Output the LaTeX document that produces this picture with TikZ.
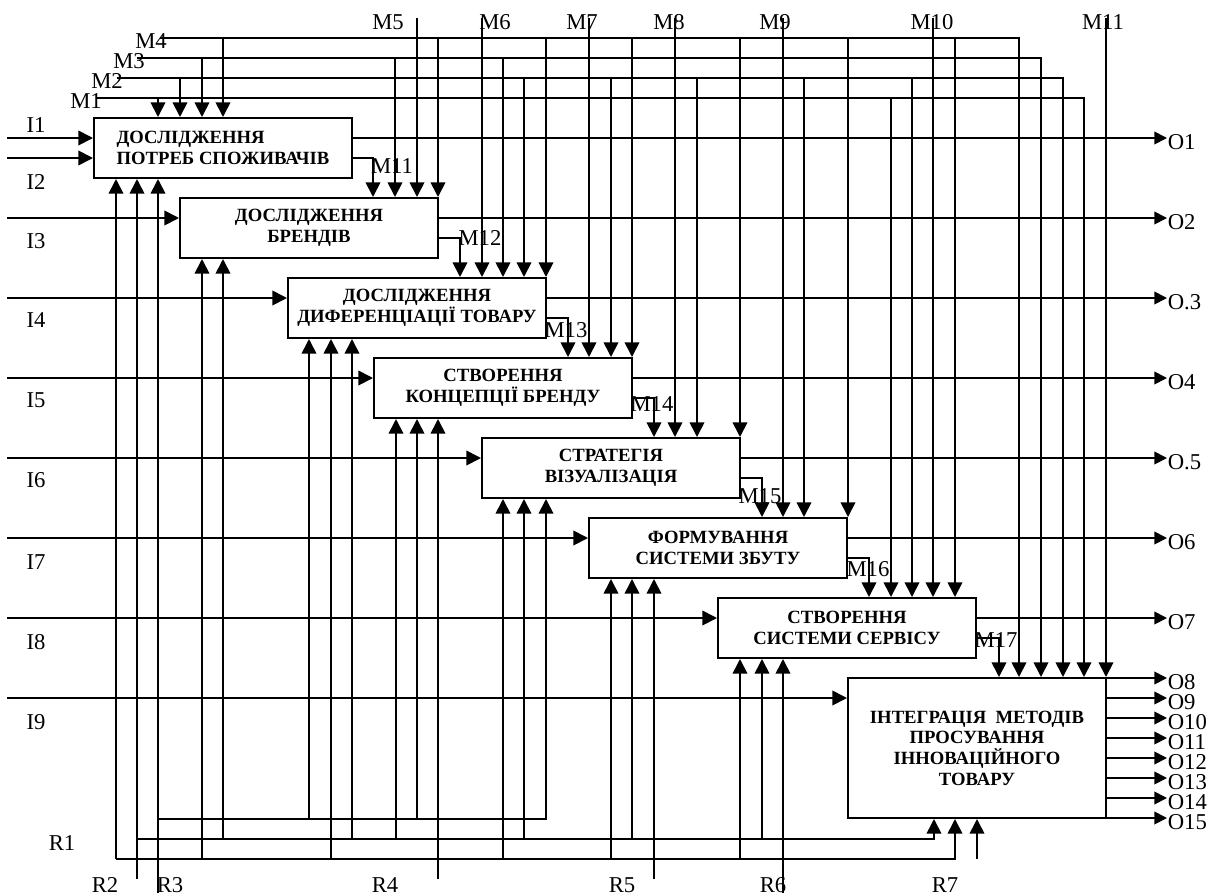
\documentclass[tikz,border=0pt]{standalone}
\usepackage{fontspec}
\setmainfont{Liberation Serif}
\usetikzlibrary{arrows.meta,positioning,calc}
\begin{document}
\begin{tikzpicture}[x=0.75pt,y=-0.75pt,line width=1.3pt,
    every node/.style={inner sep=0pt,font=\fontsize{17}{17}\selectfont},
    blok/.style={draw,line width=1.5pt,minimum width=193.5pt,minimum height=45pt,align=center,font=\fontsize{14}{15.5}\selectfont\bfseries},
    arr/.style={-{Triangle[length=11pt,width=11pt]}},
    outarr/.style={-{Triangle[length=9.5pt,width=9.5pt]}}]
    \useasboundingbox (0,0) rectangle (1214,893);
    % blocks
    \node[blok,align=left] (b1) at (223,148) {ДОСЛІДЖЕННЯ\\ПОТРЕБ СПОЖИВАЧІВ};
    \node[blok] (b2) at (309,228) {ДОСЛІДЖЕННЯ\\БРЕНДІВ};
    \node[blok] (b3) at (417,308) {ДОСЛІДЖЕННЯ\\ДИФЕРЕНЦІАЦІЇ ТОВАРУ};
    \node[blok] (b4) at (503,388) {СТВОРЕННЯ\\КОНЦЕПЦІЇ БРЕНДУ};
    \node[blok] (b5) at (611,468) {СТРАТЕГІЯ\\ВІЗУАЛІЗАЦІЯ};
    \node[blok] (b6) at (718,548) {ФОРМУВАННЯ\\СИСТЕМИ ЗБУТУ};
    \node[blok] (b7) at (847,628) {СТВОРЕННЯ\\СИСТЕМИ СЕРВІСУ};
    \node[blok,minimum height=105pt] (b8) at (977,748) {ІНТЕГРАЦІЯ~~МЕТОДІВ\\ПРОСУВАННЯ\\ІННОВАЦІЙНОГО\\ТОВАРУ};
    % inputs
    \foreach \n/\y/\ly/\b in {1/138/125/b1,2/158/182/b1,3/218/241/b2,4/298/320/b3,5/378/400/b4,6/458/480/b5,7/538/562/b6,8/618/642/b7,9/698/722/b8}{
        \coordinate (i\n) at (7,\y);
        \draw[arr] (i\n) -- (i\n -| \b.west);
        \node (li\n) at (36,\ly) {I\n};
    }
    % outputs
    \foreach \t/\y/\b [count=\k] in {O1/138/b1,O2/218/b2,O.3/298/b3,O4/378/b4,O.5/458/b5,O6/538/b6,O7/618/b7}{
        \coordinate (oe\k) at (1167,\y);
        \draw[outarr] (\b.east |- oe\k) -- (oe\k);
        \node[anchor=west] (o\k) at (1167,\y+4) {\t};
    }
    \foreach \k in {8,...,15}{
        \pgfmathsetmacro{\y}{678+(\k-8)*20}
        \coordinate (oe\k) at (1167,\y);
        \draw[outarr] (b8.east |- oe\k) -- (oe\k);
        \node[anchor=west] (o\k) at (1167,\y+4) {O\k};
    }
    % controls M1-M4
    \foreach \n/\xs/\y/\xe/\lx/\ly in {1/97/98/1084/86/101,2/117/78/1063/107/81,3/137/58/1041/129/61,4/160/38/1019/151/41}{
        \coordinate (m\n) at (\xs,\y);
        \draw[arr] (m\n) -| (\xe,0 |- b8.north);
        \node (lm\n) at (\lx,\ly) {M\n};
    }
    \foreach \x/\b in {158/b1,891/b7} \draw[arr] (m1 -| \x,0) -- (\x,0 |- \b.north);
    \foreach \x/\b in {180/b1,524/b3,611/b4,697/b5,804/b6,912/b7} \draw[arr] (m2 -| \x,0) -- (\x,0 |- \b.north);
    \foreach \x/\b in {202/b1,395/b2,503/b3} \draw[arr] (m3 -| \x,0) -- (\x,0 |- \b.north);
    \foreach \x/\b in {223/b1,438/b2,546/b3,632/b4,740/b5,848/b6,955/b7} \draw[arr] (m4 -| \x,0) -- (\x,0 |- \b.north);
    % controls from the top
    \foreach \n/\x/\lx/\b in {5/417/388/b2,6/482/495/b3,7/589/582/b4,8/675/669/b5,9/783/775/b6,10/933/932/b7,11/1106/1103/b8}{
        \coordinate (m\n) at (\x,18);
        \draw[arr] (m\n) -- (m\n |- \b.north);
        \node (lm\n) at (\lx,22) {M\n};
    }
    % block to block
    \foreach \a/\b/\x/\t/\lx/\ly in {1/2/373/M11/392/166,2/3/460/M12/480/238,3/4/568/M13/566/330,4/5/654/M14/652/404,5/6/762/M15/760/496,6/7/869/M16/868/569,7/8/999/M17/996/640}{
        \draw[arr] ([yshift=-7.5pt]b\a.east) -| (\x,0 |- b\b.north);
        \node (lq\a) at (\lx,\ly) {\t};
    }
    % mechanisms
    \coordinate (r1) at (116,859);
    \coordinate (r2) at (137,879);
    \coordinate (r2bus) at (137,839);
    \coordinate (r3) at (158,893);
    \coordinate (r3bus) at (158,819);
    \coordinate (r4) at (438,879);
    \coordinate (r5) at (654,879);
    \coordinate (r6) at (783,893);
    \coordinate (r7) at (977,859);
    \draw[arr] (r1) -- (r1 |- b1.south);
    \draw[arr] (r1) -| (955,0 |- b8.south);
    \foreach \x/\b in {202/b2,331/b3,503/b5,611/b6,740/b7} \draw[arr] (r1 -| \x,0) -- (\x,0 |- \b.south);
    \draw[arr] (r2) -- (r2 |- b1.south);
    \draw[arr] (r2bus) -| (934,0 |- b8.south);
    \foreach \x/\b in {223/b2,352/b3,396/b4,524/b5,632/b6,762/b7} \draw[arr] (r2bus -| \x,0) -- (\x,0 |- \b.south);
    \draw[arr] (r3) -- (r3 |- b1.south);
    \draw[arr] (r3bus) -| (546,0 |- b5.south);
    \foreach \x/\b in {309/b3,417/b4} \draw[arr] (r3bus -| \x,0) -- (\x,0 |- \b.south);
    \draw[arr] (r4) -- (r4 |- b4.south);
    \draw[arr] (r5) -- (r5 |- b6.south);
    \draw[arr] (r6) -- (r6 |- b7.south);
    \draw[arr] (r7) -- (r7 |- b8.south);
    \foreach \n/\x/\y in {1/62/843,2/105/885,3/170/885,4/385/885,5/622/885,6/773/885,7/945/885} \node (lr\n) at (\x,\y) {R\n};
\end{tikzpicture}
\end{document}
